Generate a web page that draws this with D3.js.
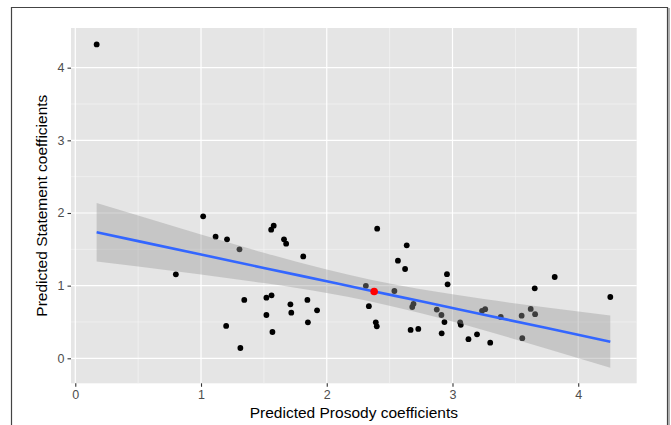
<!DOCTYPE html>
<html>
<head>
<meta charset="utf-8">
<script src="https://cdn.jsdelivr.net/npm/d3@7"></script>
<style>
  body { margin: 0; background: #fff; }
  svg { display: block; font-family: "Liberation Sans", Arial, sans-serif; }
</style>
</head>
<body>
<div id="vis"></div>
<script>
// data
const prosody = [0.17, 0.80, 1.017, 1.116, 1.207, 1.306, 1.20, 1.313, 1.344, 1.52,
  1.561, 1.52, 1.568, 1.558, 1.578, 1.66, 1.677, 1.711, 1.718, 1.813,
  1.846, 1.85, 1.923, 2.311, 2.335, 2.39, 2.398, 2.401, 2.538, 2.566,
  2.623, 2.636, 2.667, 2.68, 2.69, 2.728, 2.875, 2.912, 2.914, 2.936,
  2.956, 2.961, 3.061, 3.066, 3.127, 3.195, 3.235, 3.26, 3.30, 3.384,
  3.55, 3.555, 3.622, 3.657, 3.654, 3.813, 4.255];
const statement = [4.32, 1.156, 1.954, 1.674, 1.638, 1.50, 0.445, 0.142, 0.803, 0.835,
  0.867, 0.596, 0.362, 1.771, 1.826, 1.638, 1.578, 0.743, 0.628, 1.402,
  0.803, 0.495, 0.661, 0.997, 0.718, 0.495, 0.44, 1.784, 0.926, 1.344,
  1.229, 1.555, 0.39, 0.706, 0.75, 0.404, 0.67, 0.596, 0.344, 0.498,
  1.158, 1.018, 0.495, 0.461, 0.263, 0.33, 0.653, 0.676, 0.215, 0.57,
  0.587, 0.277, 0.679, 0.607, 0.963, 1.119, 0.844];

// highlighted point
const highlight = [{x: 2.377, y: 0.92}];

// fitted line and confidence band
const fitX     = [0.17, 0.5, 1.0, 1.5, 2.0, 2.35, 2.75, 3.25, 3.75, 4.255];
const fitY     = [1.734, 1.613, 1.429, 1.244, 1.060, 0.931, 0.784, 0.600, 0.416, 0.229];
const fitUpper = [2.137, 1.964, 1.705, 1.453, 1.222, 1.081, 0.949, 0.815, 0.699, 0.589];
const fitLower = [1.331, 1.262, 1.153, 1.035, 0.898, 0.781, 0.619, 0.385, 0.133, -0.131];

const xTicks = [0, 1, 2, 3, 4];
const yTicks = [0, 1, 2, 3, 4];
const xMinor = [0.5, 1.5, 2.5, 3.5];
const yMinor = [0.5, 1.5, 2.5, 3.5];

const WIDTH = 671, HEIGHT = 425;
const PANEL = {left: 71, right: 636.7, top: 28, bottom: 383.3};

const svg = d3.select("#vis").append("svg")
  .attr("width", WIDTH)
  .attr("height", HEIGHT);

// outer frame of the screenshot
svg.append("path")
  .attr("d", "M11.5,425 L11.5,7.5 L667.5,7.5 L667.5,425")
  .attr("fill", "none")
  .attr("stroke", "#444")
  .attr("stroke-width", 1.2);
svg.append("line")
  .attr("x1", 669).attr("x2", 669).attr("y1", 8).attr("y2", 425)
  .attr("stroke", "#999").attr("stroke-width", 1.5);

const X = d3.scaleLinear().domain([-0.034, 4.465]).range([PANEL.left, PANEL.right]);
const Y = d3.scaleLinear().domain([-0.344, 4.546]).range([PANEL.bottom, PANEL.top]);

// panel background
svg.append("rect")
  .attr("x", PANEL.left).attr("y", PANEL.top)
  .attr("width", PANEL.right - PANEL.left)
  .attr("height", PANEL.bottom - PANEL.top)
  .attr("fill", "#e5e5e5");

// grid
const grid = svg.append("g");
grid.selectAll(".xminor").data(xMinor).enter().append("line")
  .attr("x1", d => X(d)).attr("x2", d => X(d))
  .attr("y1", PANEL.top).attr("y2", PANEL.bottom)
  .attr("stroke", "#f4f4f4").attr("stroke-width", 0.7);
grid.selectAll(".yminor").data(yMinor).enter().append("line")
  .attr("y1", d => Y(d)).attr("y2", d => Y(d))
  .attr("x1", PANEL.left).attr("x2", PANEL.right)
  .attr("stroke", "#f4f4f4").attr("stroke-width", 0.7);
grid.selectAll(".xmajor").data(xTicks).enter().append("line")
  .attr("x1", d => X(d)).attr("x2", d => X(d))
  .attr("y1", PANEL.top).attr("y2", PANEL.bottom)
  .attr("stroke", "#fff").attr("stroke-width", 1.2);
grid.selectAll(".ymajor").data(yTicks).enter().append("line")
  .attr("y1", d => Y(d)).attr("y2", d => Y(d))
  .attr("x1", PANEL.left).attr("x2", PANEL.right)
  .attr("stroke", "#fff").attr("stroke-width", 1.2);

// points
const pts = prosody.map((d, i) => ({x: d, y: statement[i]}));
svg.append("g").selectAll("circle")
  .data(pts).enter().append("circle")
    .attr("cx", d => X(d.x))
    .attr("cy", d => Y(d.y))
    .attr("r", 2.9)
    .attr("fill", "#000");

// confidence band + fit line
const band = fitX.map((d, i) => ({x: d, lo: fitLower[i], hi: fitUpper[i], y: fitY[i]}));
svg.append("path")
  .datum(band)
  .attr("d", d3.area()
    .x(d => X(d.x)).y0(d => Y(d.lo)).y1(d => Y(d.hi))
    .curve(d3.curveMonotoneX))
  .attr("fill", "#999")
  .attr("fill-opacity", 0.4);

svg.append("path")
  .datum(band)
  .attr("d", d3.line().x(d => X(d.x)).y(d => Y(d.y)).curve(d3.curveMonotoneX))
  .attr("fill", "none")
  .attr("stroke", "#3366ff")
  .attr("stroke-width", 2.6);

svg.append("g").selectAll("circle")
  .data(highlight).enter().append("circle")
    .attr("cx", d => X(d.x))
    .attr("cy", d => Y(d.y))
    .attr("r", 3.8)
    .attr("fill", "#ff0000");

// axes
const xAxis = svg.append("g")
  .attr("transform", "translate(0," + PANEL.bottom + ")")
  .call(d3.axisBottom(X).tickValues(xTicks).tickSize(3.5).tickPadding(3).tickFormat(d3.format("d")));
const yAxis = svg.append("g")
  .attr("transform", "translate(" + PANEL.left + ",0)")
  .call(d3.axisLeft(Y).tickValues(yTicks).tickSize(3.5).tickPadding(3).tickFormat(d3.format("d")));

[xAxis, yAxis].forEach(a => {
  a.select(".domain").remove();
  a.selectAll(".tick line").attr("stroke", "#333").attr("stroke-width", 1.1);
  a.selectAll(".tick text")
    .attr("fill", "#4d4d4d")
    .attr("font-size", "12.5px")
    .attr("font-family", "Liberation Sans, Arial, sans-serif");
});

// axis titles
svg.append("text")
  .attr("x", (PANEL.left + PANEL.right) / 2)
  .attr("y", 418)
  .attr("text-anchor", "middle")
  .attr("font-size", "15.5px")
  .attr("fill", "#000")
  .text("Predicted Prosody coefficients");

svg.append("text")
  .attr("transform", "translate(47," + (PANEL.top + PANEL.bottom) / 2 + ") rotate(-90)")
  .attr("text-anchor", "middle")
  .attr("font-size", "15.5px")
  .attr("fill", "#000")
  .text("Predicted Statement coefficients");
</script>
</body>
</html>
